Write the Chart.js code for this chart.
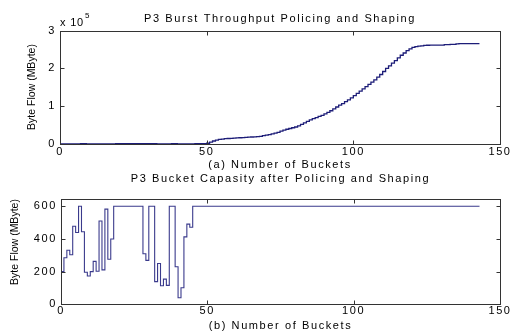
<!DOCTYPE html>
<html lang="en">
<head>
<meta charset="UTF-8">
<title>P3 Burst Throughput / Bucket Capasity</title>
<script src="https://cdn.jsdelivr.net/npm/chart.js"></script>
<style>
  body { margin: 0; background: #fff; }
  #wrap { position: relative; width: 511px; height: 335px; }
  #top_chart { position: absolute; left: 0; top: 0; }
  #bottom_chart { position: absolute; left: 0; top: 170px; }
</style>
</head>
<body>
<div id="wrap">
  <canvas id="top_chart" width="511" height="170"></canvas>
  <canvas id="bottom_chart" width="511" height="165"></canvas>
</div>
<script>
  // (a) byte flow per bucket, index = bucket number 0..143
  const throughput = [
    0, 0, 0, 0, 0, 0, 0, 1000, 1000, 0,
    0, 0, 0, 0, 0, 0, 0, 0, 0, 800,
    800, 800, 800, 800, 800, 800, 800, 800, 800, 800,
    800, 800, 800, 0, 0, 0, 0, 0, 800, 800,
    0, 0, 0, 0, 0, 0, 1000, 1000, 1000, 1000,
    2000, 5000, 8000, 10000, 12000, 13000, 14000, 14500, 15000, 15500,
    16000, 16500, 17000, 17500, 18000, 18500, 19000, 19500, 20000, 22000,
    23500, 25000, 27000, 29000, 31000, 34000, 36500, 39000, 41000, 43000,
    45000, 48000, 52000, 56000, 60000, 64000, 67000, 70000, 73000, 76000,
    80000, 84000, 88000, 93000, 98000, 103000, 107000, 112000, 117000, 122000,
    128000, 134000, 140000, 146000, 152000, 158000, 164000, 170000, 177000, 184000,
    192000, 200000, 207000, 214000, 221000, 228000, 235000, 241000, 247000, 252000,
    256000, 258000, 259000, 260000, 261000, 261500, 262000, 262000, 262000, 262000,
    262000, 263000, 263000, 264000, 264000, 265000, 266000, 266000, 266000, 266000,
    266000, 266000, 266000, 266000
  ];

  // (b) bucket capacity as stairs: bucket where it changes, value from there on
  const capBuckets = [0, 1, 2, 3, 4, 5, 6, 7, 8, 9, 10, 11, 12, 13, 14, 15, 16, 17, 18,
    28, 29, 30, 32, 33, 34, 35, 36, 37, 39, 40, 41, 42, 43, 44, 45, 143];
  const capacity = [200, 285, 331, 303, 478, 440, 600, 444, 196, 173, 200, 263, 202, 510, 211, 583, 276, 400, 600,
    310, 269, 600, 139, 250, 114, 154, 116, 600, 230, 40, 101, 413, 491, 472, 600, 600];

  const xTicks = [0, 50, 100, 150];
  const topYTicks = [0, 100000, 200000, 300000];
  const bottomYTicks = [0, 200, 400, 600];

  Chart.defaults.font.family = '"Liberation Sans", Arial, sans-serif';
  Chart.defaults.font.size = 11;
  Chart.defaults.color = '#000';

  // matlab style: closed box, ticks pointing inward, rotated y label
  const matlab_box = {
    id: 'matlab_box',
    beforeDraw(chart) {
      chart.ctx.letterSpacing = '1.6px';
    },
    afterDraw(chart, args, opts) {
      const ctx = chart.ctx;
      const a = chart.chartArea;
      const xs = chart.scales.x;
      const ys = chart.scales.y;
      const l = Math.round(a.left) + 0.5, r = Math.round(a.right) + 0.5;
      const t = Math.round(a.top) + 0.5, b = Math.round(a.bottom) + 0.5;
      ctx.save();
      ctx.strokeStyle = '#333';
      ctx.lineWidth = 1;
      ctx.strokeRect(l, t, r - l, b - t);
      ctx.beginPath();
      xs.ticks.forEach(tk => {
        const x = Math.round(xs.getPixelForValue(tk.value)) + 0.5;
        ctx.moveTo(x, b); ctx.lineTo(x, b - 4);
        ctx.moveTo(x, t); ctx.lineTo(x, t + 4);
      });
      ys.ticks.forEach(tk => {
        const y = Math.round(ys.getPixelForValue(tk.value)) + 0.5;
        ctx.moveTo(l, y); ctx.lineTo(l + 4, y);
        ctx.moveTo(r, y); ctx.lineTo(r - 4, y);
      });
      ctx.stroke();

      ctx.fillStyle = '#000';
      ctx.letterSpacing = '0px';
      ctx.font = '10.5px "Liberation Sans", Arial, sans-serif';
      ctx.textAlign = 'center';
      ctx.textBaseline = 'middle';
      ctx.save();
      ctx.translate(opts.labelX, opts.labelY);
      ctx.rotate(-Math.PI / 2);
      ctx.fillText('Byte Flow (MByte)', 0, 0);
      ctx.restore();

      if (opts.exponent) {
        ctx.letterSpacing = '0.8px';
        ctx.textAlign = 'left';
        ctx.font = '11px "Liberation Sans", Arial, sans-serif';
        ctx.fillText('x 10', 60, 23);
        ctx.font = '8px "Liberation Sans", Arial, sans-serif';
        ctx.fillText(opts.exponent, 85, 16);
      }
      ctx.restore();
    }
  };

  function make_chart(id, points, cfg) {
    return new Chart(document.getElementById(id), {
      type: 'line',
      data: {
        datasets: [{
          data: points,
          stepped: true,
          borderColor: cfg.color,
          borderWidth: cfg.lineWidth,
          pointRadius: 0,
          fill: false,
          clip: 3
        }]
      },
      options: {
        responsive: false,
        animation: false,
        events: [],
        layout: { padding: { left: 0, right: 11, top: 0, bottom: 0 } },
        plugins: {
          legend: { display: false },
          tooltip: { enabled: false },
          title: {
            display: true,
            fullSize: false,
            text: cfg.title,
            color: '#000',
            font: { size: 11, weight: 'normal' },
            padding: cfg.titlePad
          },
          matlab_box: { labelX: cfg.labelX, labelY: cfg.labelY, exponent: cfg.exponent }
        },
        scales: {
          x: {
            type: 'linear',
            min: 0,
            max: 150,
            afterBuildTicks: s => { s.ticks = xTicks.map(v => ({ value: v })); },
            afterFit: s => { s.height = cfg.xHeight; },
            grid: { display: false, drawTicks: false },
            border: { display: false },
            ticks: { padding: cfg.xTickPad, maxRotation: 0, color: '#000' },
            title: {
              display: true,
              text: cfg.xTitle,
              color: '#000',
              font: { size: 11 },
              padding: { top: 0, bottom: cfg.xTitlePad }
            }
          },
          y: {
            min: 0,
            max: cfg.yMax,
            afterBuildTicks: s => { s.ticks = cfg.yTicks.map(v => ({ value: v })); },
            afterFit: s => { s.width = cfg.yWidth; },
            grid: { display: false, drawTicks: false },
            border: { display: false },
            ticks: { padding: 4, color: '#000', callback: cfg.yFormat }
          }
        }
      },
      plugins: [matlab_box]
    });
  }

  make_chart('top_chart', throughput.map((v, i) => ({ x: i, y: v })), {
    title: 'P3 Burst Throughput Policing and Shaping',
    titlePad: { top: 12, bottom: 5.5 },
    xTitle: '(a) Number of Buckets',
    xHeight: 26,
    xTickPad: 1,
    xTitlePad: -2,
    yMax: 300000,
    yTicks: topYTicks,
    yWidth: 60,
    yFormat: v => v / 100000,
    labelX: 32,
    labelY: 87,
    exponent: '5',
    color: '#1d1d78',
    lineWidth: 1.3
  });

  make_chart('bottom_chart', capBuckets.map((b, i) => ({ x: b, y: capacity[i] })), {
    title: 'P3 Bucket Capasity after Policing and Shaping',
    titlePad: { top: 2.7, bottom: 13.4 },
    xTitle: '(b) Number of Buckets',
    xHeight: 30.7,
    xTickPad: 0,
    xTitlePad: 2,
    yMax: 643,
    yTicks: bottomYTicks,
    yWidth: 61,
    yFormat: v => v,
    labelX: 15,
    labelY: 72,
    exponent: null,
    color: '#3a3a8c',
    lineWidth: 1.1
  });
</script>
</body>
</html>
